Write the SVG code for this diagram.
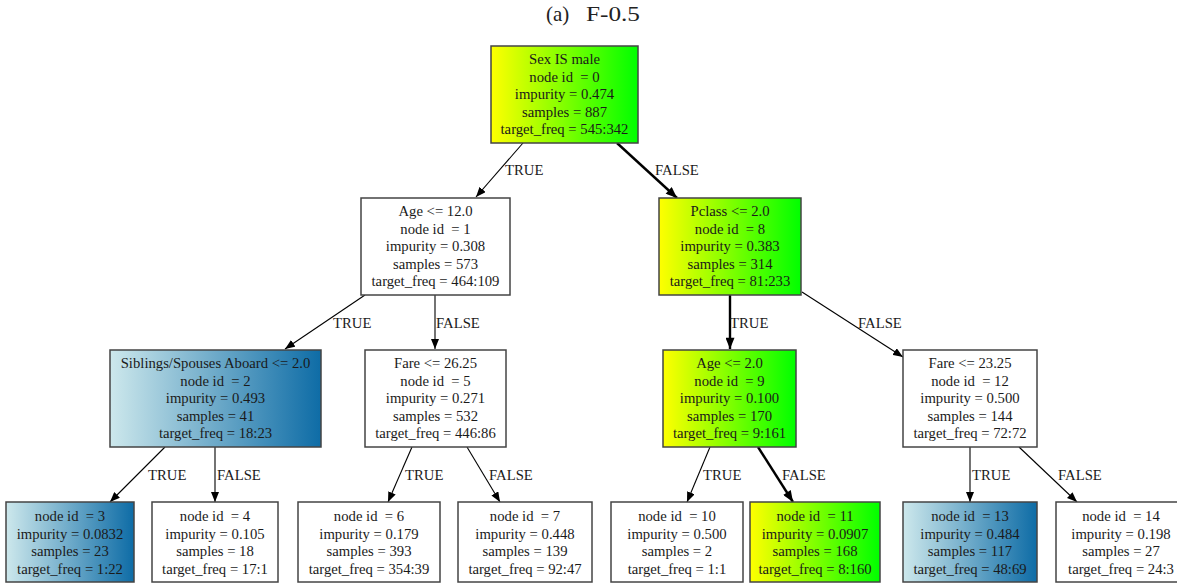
<svg xmlns="http://www.w3.org/2000/svg" width="1177" height="584" viewBox="0 0 1177 584">
<style>
  .box { stroke: #444; stroke-width: 1.5; }
  .w { fill: #fff; }
  .yg { fill: url(#gYG); }
  .bl { fill: url(#gBL); }
  text { font-family: "Liberation Serif", "Times New Roman", serif; font-size: 14.7px; fill: #1a1a1a; white-space: pre; }
  .c { text-anchor: middle; }
  .e { stroke: #000; stroke-width: 1.1; fill: none; marker-end: url(#ah); }
  .eb { stroke: #000; stroke-width: 2.4; fill: none; marker-end: url(#ahb); }
  .title { font-size: 21px; fill: #222; }
</style>
<defs>
  <linearGradient id="gYG" x1="0" y1="0" x2="1" y2="0">
    <stop offset="0" stop-color="#ffff00"/>
    <stop offset="1" stop-color="#00ff00"/>
  </linearGradient>
  <linearGradient id="gBL" x1="0" y1="0" x2="1" y2="0">
    <stop offset="0" stop-color="#cde8ec"/>
    <stop offset="1" stop-color="#0e6ca6"/>
  </linearGradient>
  <marker id="ah" viewBox="0 0 10 8" refX="10" refY="4" markerWidth="10" markerHeight="8" markerUnits="userSpaceOnUse" orient="auto">
    <path d="M0,0 L10,4 L0,8 Z" fill="#000"/>
  </marker>
  <marker id="ahb" viewBox="0 0 10 8" refX="10" refY="4" markerWidth="12" markerHeight="9" markerUnits="userSpaceOnUse" orient="auto">
    <path d="M0,0 L10,4 L0,8 Z" fill="#000"/>
  </marker>
</defs>
<rect x="0" y="0" width="1177" height="584" fill="#fff"/>
<text class="title" y="21"><tspan x="546">(a)</tspan><tspan x="586" textLength="54" lengthAdjust="spacingAndGlyphs">F-0.5</tspan></text>

<g id="connectors">
  <line class="e" x1="523" y1="143" x2="476" y2="197"/>
  <line class="eb" x1="617" y1="143" x2="677" y2="198"/>
  <line class="e" x1="365" y1="295" x2="285" y2="349"/>
  <line class="e" x1="435" y1="295" x2="435" y2="349"/>
  <line class="eb" x1="730" y1="295" x2="730" y2="349"/>
  <line class="e" x1="802" y1="292" x2="903" y2="357"/>
  <line class="e" x1="165" y1="447" x2="110" y2="502"/>
  <line class="e" x1="215" y1="447" x2="215" y2="502"/>
  <line class="e" x1="412" y1="447" x2="388" y2="502"/>
  <line class="e" x1="467" y1="447" x2="500" y2="502"/>
  <line class="e" x1="710" y1="447" x2="687" y2="502"/>
  <line class="eb" x1="758" y1="447" x2="793" y2="502"/>
  <line class="e" x1="970" y1="447" x2="970" y2="502"/>
  <line class="e" x1="1019" y1="447" x2="1077" y2="502"/>
  <text x="505" y="175">TRUE</text>
  <text x="655" y="175">FALSE</text>
  <text x="333" y="328">TRUE</text>
  <text x="436" y="328">FALSE</text>
  <text x="730" y="328">TRUE</text>
  <text x="858" y="328">FALSE</text>
  <text x="148" y="480">TRUE</text>
  <text x="217" y="480">FALSE</text>
  <text x="405" y="480">TRUE</text>
  <text x="489" y="480">FALSE</text>
  <text x="703" y="480">TRUE</text>
  <text x="782" y="480">FALSE</text>
  <text x="972" y="480">TRUE</text>
  <text x="1058" y="480">FALSE</text>
</g>

<g id="node0">
  <rect class="box yg" x="491" y="46" width="147" height="97"/>
  <text class="c" x="564.5" y="64">Sex IS male</text>
  <text class="c" x="564.5" y="81.5">node id  = 0</text>
  <text class="c" x="564.5" y="99">impurity = 0.474</text>
  <text class="c" x="564.5" y="116.5">samples = 887</text>
  <text class="c" x="564.5" y="134">target_freq = 545:342</text>
</g>
<g id="node1">
  <rect class="box w" x="361" y="198" width="149" height="97"/>
  <text class="c" x="435.5" y="216">Age &lt;= 12.0</text>
  <text class="c" x="435.5" y="233.5">node id  = 1</text>
  <text class="c" x="435.5" y="251">impurity = 0.308</text>
  <text class="c" x="435.5" y="268.5">samples = 573</text>
  <text class="c" x="435.5" y="286">target_freq = 464:109</text>
</g>
<g id="node8">
  <rect class="box yg" x="659" y="198" width="142" height="97"/>
  <text class="c" x="730" y="216">Pclass &lt;= 2.0</text>
  <text class="c" x="730" y="233.5">node id  = 8</text>
  <text class="c" x="730" y="251">impurity = 0.383</text>
  <text class="c" x="730" y="268.5">samples = 314</text>
  <text class="c" x="730" y="286">target_freq = 81:233</text>
</g>
<g id="node2">
  <rect class="box bl" x="110" y="350" width="211" height="97"/>
  <text class="c" x="215.5" y="368">Siblings/Spouses Aboard &lt;= 2.0</text>
  <text class="c" x="215.5" y="385.5">node id  = 2</text>
  <text class="c" x="215.5" y="403">impurity = 0.493</text>
  <text class="c" x="215.5" y="420.5">samples = 41</text>
  <text class="c" x="215.5" y="438">target_freq = 18:23</text>
</g>
<g id="node5">
  <rect class="box w" x="365" y="350" width="141" height="97"/>
  <text class="c" x="435.5" y="368">Fare &lt;= 26.25</text>
  <text class="c" x="435.5" y="385.5">node id  = 5</text>
  <text class="c" x="435.5" y="403">impurity = 0.271</text>
  <text class="c" x="435.5" y="420.5">samples = 532</text>
  <text class="c" x="435.5" y="438">target_freq = 446:86</text>
</g>
<g id="node9">
  <rect class="box yg" x="663" y="350" width="133" height="97"/>
  <text class="c" x="729.5" y="368">Age &lt;= 2.0</text>
  <text class="c" x="729.5" y="385.5">node id  = 9</text>
  <text class="c" x="729.5" y="403">impurity = 0.100</text>
  <text class="c" x="729.5" y="420.5">samples = 170</text>
  <text class="c" x="729.5" y="438">target_freq = 9:161</text>
</g>
<g id="node12">
  <rect class="box w" x="903" y="350" width="134" height="97"/>
  <text class="c" x="970" y="368">Fare &lt;= 23.25</text>
  <text class="c" x="970" y="385.5">node id  = 12</text>
  <text class="c" x="970" y="403">impurity = 0.500</text>
  <text class="c" x="970" y="420.5">samples = 144</text>
  <text class="c" x="970" y="438">target_freq = 72:72</text>
</g>
<g id="node3">
  <rect class="box bl" x="6" y="502" width="128" height="80"/>
  <text class="c" x="70" y="521">node id  = 3</text>
  <text class="c" x="70" y="538.5">impurity = 0.0832</text>
  <text class="c" x="70" y="556">samples = 23</text>
  <text class="c" x="70" y="573.5">target_freq = 1:22</text>
</g>
<g id="node4">
  <rect class="box w" x="152" y="502" width="126" height="80"/>
  <text class="c" x="215" y="521">node id  = 4</text>
  <text class="c" x="215" y="538.5">impurity = 0.105</text>
  <text class="c" x="215" y="556">samples = 18</text>
  <text class="c" x="215" y="573.5">target_freq = 17:1</text>
</g>
<g id="node6">
  <rect class="box w" x="298" y="502" width="142" height="80"/>
  <text class="c" x="369" y="521">node id  = 6</text>
  <text class="c" x="369" y="538.5">impurity = 0.179</text>
  <text class="c" x="369" y="556">samples = 393</text>
  <text class="c" x="369" y="573.5">target_freq = 354:39</text>
</g>
<g id="node7">
  <rect class="box w" x="458" y="502" width="134" height="80"/>
  <text class="c" x="525" y="521">node id  = 7</text>
  <text class="c" x="525" y="538.5">impurity = 0.448</text>
  <text class="c" x="525" y="556">samples = 139</text>
  <text class="c" x="525" y="573.5">target_freq = 92:47</text>
</g>
<g id="node10">
  <rect class="box w" x="611" y="502" width="132" height="80"/>
  <text class="c" x="677" y="521">node id  = 10</text>
  <text class="c" x="677" y="538.5">impurity = 0.500</text>
  <text class="c" x="677" y="556">samples = 2</text>
  <text class="c" x="677" y="573.5">target_freq = 1:1</text>
</g>
<g id="node11">
  <rect class="box yg" x="750" y="502" width="130" height="80"/>
  <text class="c" x="815" y="521">node id  = 11</text>
  <text class="c" x="815" y="538.5">impurity = 0.0907</text>
  <text class="c" x="815" y="556">samples = 168</text>
  <text class="c" x="815" y="573.5">target_freq = 8:160</text>
</g>
<g id="node13">
  <rect class="box bl" x="903" y="502" width="134" height="80"/>
  <text class="c" x="970" y="521">node id  = 13</text>
  <text class="c" x="970" y="538.5">impurity = 0.484</text>
  <text class="c" x="970" y="556">samples = 117</text>
  <text class="c" x="970" y="573.5">target_freq = 48:69</text>
</g>
<g id="node14">
  <rect class="box w" x="1056" y="502" width="130" height="80"/>
  <text class="c" x="1121" y="521">node id  = 14</text>
  <text class="c" x="1121" y="538.5">impurity = 0.198</text>
  <text class="c" x="1121" y="556">samples = 27</text>
  <text class="c" x="1121" y="573.5">target_freq = 24:3</text>
</g>
</svg>
